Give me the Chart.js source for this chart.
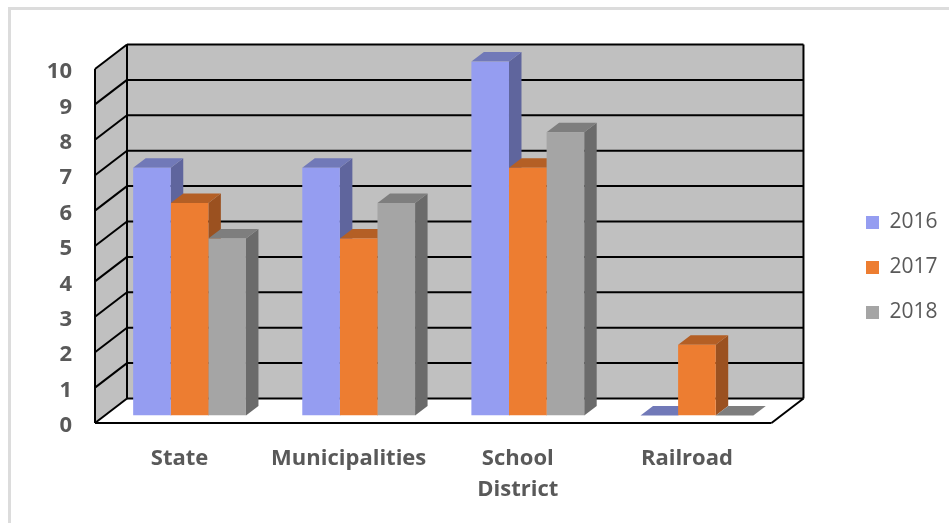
<!DOCTYPE html>
<html>
<head>
<meta charset="utf-8">
<style>
  html, body { margin: 0; padding: 0; background: #fff; }
  #marco { position: absolute; left: 8px; top: 7px; width: 941px; height: 516px; border-left: 3px solid #dcdcdc; border-top: 3px solid #dcdcdc; }
  #grafica { position: absolute; left: 0; top: 0; filter: blur(0.5px); }
</style>
<script src="https://cdn.jsdelivr.net/npm/chart.js@4"></script>
</head>
<body>
<div id="marco"></div>
<canvas id="grafica" width="949" height="523"></canvas>
<script>
// Datos

const categorias = ['State', 'Municipalities', ['School', 'District'], 'Railroad'];
const anios = ['2016', '2017', '2018'];
const datos2016 = [7, 7, 10, 0];
const datos2017 = [6, 5, 7, 2];
const datos2018 = [5, 6, 8, 0];

// Colores: frente, tapa, lado

const colores = [
  { frente: '#959DF1', tapa: '#7179B8', lado: '#5F659D' },
  { frente: '#ED7D31', tapa: '#B45F25', lado: '#9B5120' },
  { frente: '#A5A5A5', tapa: '#7E7E7E', lado: '#6B6B6B' }
];

const fuente = '"Open Sans"';
const gris = '#595959';

// Perspectiva falsa, Chart.js no trae barras 3D

const fondoX = 32, fondoY = -24.5;    // del frente a la pared del fondo
const barraX = 10, barraY = -7.5;     // donde empiezan las barras
const hondoX = 12.5, hondoY = -9.5;   // profundidad de cada barra

function poligono(ctx, puntos, color) {
  ctx.fillStyle = color;
  ctx.beginPath();
  puntos.forEach((p, i) => i ? ctx.lineTo(p[0], p[1]) : ctx.moveTo(p[0], p[1]));
  ctx.closePath();
  ctx.fill();
}

function linea(ctx, x1, y1, x2, y2) {
  ctx.beginPath();
  ctx.moveTo(x1, y1);
  ctx.lineTo(x2, y2);
  ctx.stroke();
}

const paredes = {
  id: 'paredes',
  afterLayout(chart) {
    // la leyenda va suelta, a la derecha de la pared
    const l = chart.legend;
    l.left = 842;
    l.right = 949;
    l.top = 188;
    l.bottom = 520;
  },
  beforeDatasetsDraw(chart) {
    const ctx = chart.ctx;
    const a = chart.chartArea;
    const y = chart.scales.y;
    const y0 = y.getPixelForValue(0);
    const y10 = y.getPixelForValue(10);

    ctx.save();
    poligono(ctx, [[a.left, y10], [a.left + fondoX, y10 + fondoY], [a.left + fondoX, y0 + fondoY], [a.left, y0]], '#C0C0C0');
    poligono(ctx, [[a.left + fondoX, y10 + fondoY], [a.right + fondoX, y10 + fondoY], [a.right + fondoX, y0 + fondoY], [a.left + fondoX, y0 + fondoY]], '#C0C0C0');

    ctx.strokeStyle = '#000';
    ctx.lineWidth = 2;
    y.ticks.forEach(t => {
      const py = y.getPixelForValue(t.value);
      linea(ctx, a.left, py, a.left + fondoX, py + fondoY);
      linea(ctx, a.left + fondoX, py + fondoY, a.right + fondoX, py + fondoY);
    });
    linea(ctx, a.left, y10, a.left, y0);
    linea(ctx, a.left + fondoX, y10 + fondoY, a.left + fondoX, y0 + fondoY);
    linea(ctx, a.right + fondoX, y10 + fondoY, a.right + fondoX, y0 + fondoY);
    linea(ctx, a.left, y0, a.right, y0);
    linea(ctx, a.right, y0, a.right + fondoX, y0 + fondoY);
    ctx.restore();

    // lados y tapas de izquierda a derecha, los frentes los pinta Chart.js encima
    ctx.save();
    ctx.translate(barraX, barraY);
    for (let c = 0; c < categorias.length; c++) {
      chart.data.datasets.forEach((ds, i) => {
        const b = chart.getDatasetMeta(i).data[c];
        const izq = b.x - b.width / 2;
        const der = b.x + b.width / 2;
        if (b.base > b.y) {
          poligono(ctx, [[der, b.y], [der + hondoX, b.y + hondoY], [der + hondoX, b.base + hondoY], [der, b.base]], colores[i].lado);
        }
        poligono(ctx, [[izq, b.y], [izq + hondoX, b.y + hondoY], [der + hondoX, b.y + hondoY], [der, b.y]], colores[i].tapa);
      });
    }
    ctx.restore();

    ctx.save();
    ctx.translate(barraX, barraY);
  },
  afterDatasetsDraw(chart) {
    chart.ctx.restore();
  }
};

new Chart(document.getElementById('grafica'), {
  type: 'bar',
  data: {
    labels: categorias,
    datasets: [
      { label: anios[0], data: datos2016, backgroundColor: colores[0].frente },
      { label: anios[1], data: datos2017, backgroundColor: colores[1].frente },
      { label: anios[2], data: datos2018, backgroundColor: colores[2].frente }
    ]
  },
  options: {
    responsive: false,
    animation: false,
    devicePixelRatio: 1,
    categoryPercentage: 0.667,
    barPercentage: 1,
    layout: { padding: { left: 0, top: 69, right: 72, bottom: 0 } },
    plugins: {
      tooltip: { enabled: false },
      legend: {
        position: 'right',
        align: 'start',
        labels: {
          boxWidth: 13,
          boxHeight: 13,
          padding: 24,
          color: gris,
          font: { family: fuente, size: 21 }
        }
      }
    },
    scales: {
      x: {
        grid: { display: false },
        border: { display: false },
        afterFit(s) { s.height = 100; },
        ticks: {
          color: gris,
          padding: 12,
          maxRotation: 0,
          autoSkip: false,
          font: { family: fuente, size: 22, weight: 'bold', lineHeight: 1.41 }
        }
      },
      y: {
        min: 0,
        max: 10,
        grid: { display: false, drawTicks: false },
        border: { display: false },
        afterFit(s) { s.width = 95; },
        ticks: {
          stepSize: 1,
          color: gris,
          padding: 23,
          labelOffset: 3,
          font: { family: fuente, size: 22, weight: 'bold' }
        }
      }
    }
  },
  plugins: [paredes]
});
</script>
</body>
</html>
